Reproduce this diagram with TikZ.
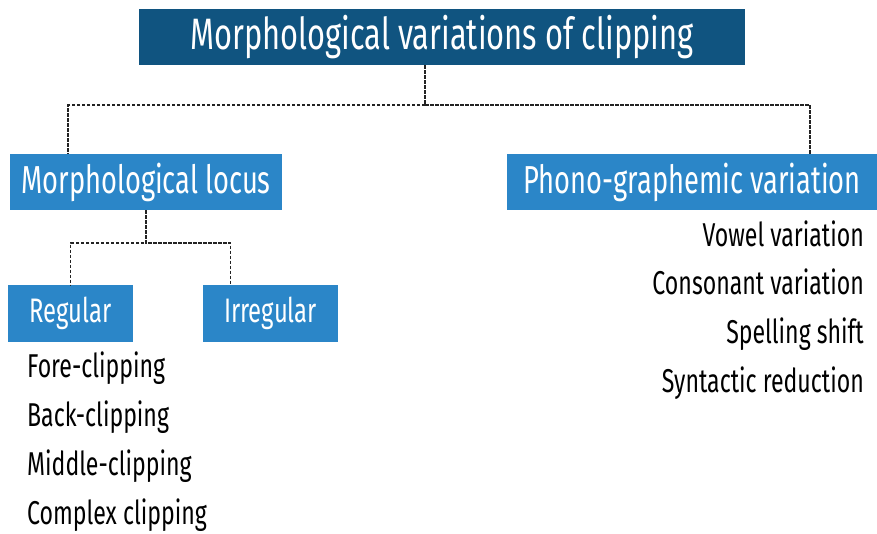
\documentclass[tikz,border=0pt]{standalone}
\usepackage{fontspec}
\setmainfont{Fira Sans}[FakeStretch=0.7]
\usepackage{xcolor}
\usepackage{tikz}

\definecolor{darkblue}{RGB}{16,84,128}
\definecolor{midblue}{RGB}{43,134,200}
\definecolor{linkgray}{RGB}{35,35,35}

\tikzset{
  titlebox/.style={fill=darkblue, text=white, inner sep=0pt, font=\fontsize{44}{52}\selectfont},
  catbox/.style={fill=midblue, text=white, inner sep=0pt, minimum height=56pt, font=\fontsize{39}{46}\selectfont},
  subbox/.style={fill=midblue, text=white, inner sep=0pt, minimum height=57pt, font=\fontsize{34}{40}\selectfont},
  item/.style={inner sep=0pt, text=black, font=\fontsize{33}{40}\selectfont},
  link/.style={draw=linkgray, line width=1.6pt, dash pattern=on 3.5pt off 1.5pt}
}

\begin{document}
\begin{tikzpicture}[x=1pt,y=-1pt]
\useasboundingbox (0,0) rectangle (877,533);

    \node[titlebox, minimum width=606pt, minimum height=56pt] (title) at (442,37) {Morphological variations of clipping};

    \node[catbox, minimum width=272pt] (locus) at (146,182) {Morphological locus};
    \node[catbox, minimum width=370pt] (phono) at (692,182) {Phono-graphemic variation};

    \node[subbox, minimum width=125pt] (regular) at (70.5,313.5) {Regular};
    \node[subbox, minimum width=135pt] (irregular) at (270.5,313.5) {Irregular};

    \node[item, anchor=base west] (fore) at (27,377) {Fore-clipping};
    \node[item, anchor=base west] (back) at (27,426) {Back-clipping};
    \node[item, anchor=base west] (middle) at (27,475) {Middle-clipping};
    \node[item, anchor=base west] (complex) at (27,524) {Complex clipping};

    \node[item, anchor=base east] (vowel) at (864,246) {Vowel variation};
    \node[item, anchor=base east] (consonant) at (864,294) {Consonant variation};
    \node[item, anchor=base east] (spelling) at (864,343) {Spelling shift};
    \node[item, anchor=base east] (syntactic) at (864,392) {Syntactic reduction};

    % draw the links
    \draw[link] ([xshift=-17pt]title.south) -- ++(0,40) -| ([xshift=-78pt]locus.north);
    \draw[link] ([xshift=-17pt]title.south) -- ++(0,40) -| ([xshift=118pt]phono.north);
    \draw[link] (locus.south) -- ++(0,33) -| (regular.north);
    \draw[link] (locus.south) -- ++(0,33) -| ([xshift=-40pt]irregular.north);

\end{tikzpicture}
\end{document}
